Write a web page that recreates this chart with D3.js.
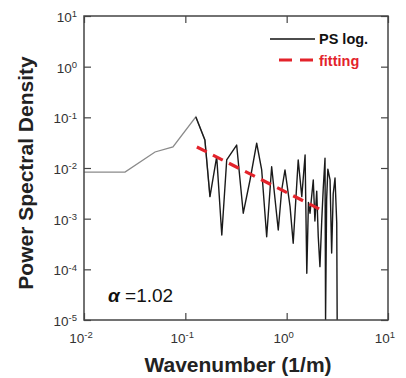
<!DOCTYPE html>
<html>
<head>
<meta charset="utf-8">
<script src="https://cdn.jsdelivr.net/npm/d3@7"></script>
<style>
  html, body { margin: 0; padding: 0; background: #fff; }
  svg text { font-family: "Liberation Sans", Arial, sans-serif; }
</style>
</head>
<body>
<div id="chart"></div>
<script>
// power spectrum (wavenumber in 1/m, PSD)
const waveNumber = [0.01, 0.0254, 0.0502, 0.0755, 0.127, 0.156, 0.175, 0.204, 0.229, 0.256,
	0.321, 0.373, 0.435, 0.506, 0.567, 0.635, 0.711, 0.826, 0.893, 0.963,
	1.08, 1.16, 1.30, 1.41, 1.52, 1.58, 1.64, 1.70, 1.83, 1.90, 1.98, 2.05, 2.13,
	2.22, 2.30, 2.39, 2.42, 2.48, 2.55, 2.68, 2.78, 2.88, 3.00, 3.12, 3.15];
const psd = [0.0083, 0.0083, 0.0207, 0.026, 0.102, 0.0357, 0.00272, 0.0167, 0.000477, 0.0144,
	0.0284, 0.00128, 0.0058, 0.0308, 0.00914, 0.00044, 0.0106, 0.000598, 0.00368, 0.00914,
	0.00173, 0.000327, 0.0144, 0.00272, 0.0181, 0.0000836, 0.0021, 0.00128, 0.0058, 0.0009, 0.0035, 0.00044, 0.000113,
	0.00094, 0.0042, 0.0156, 0.00001, 0.0024, 0.0095, 0.0058, 0.00021, 0.0031, 0.00635, 0.00082, 0.00001];

// fitted power law, alpha = 1.02
const fitX = [0.13, 2.2];
const fitY = [0.026, 0.00148];
const alphaLabel = "1.02";

const xTicks = [0.01, 0.1, 1, 10];
const yTicks = [1e-5, 1e-4, 1e-3, 1e-2, 1e-1, 1, 10];

const width = 406;
const height = 378;
const margins = { top: 16, right: 18, bottom: 58, left: 84 };
const plotW = width - margins.left - margins.right;
const plotH = height - margins.top - margins.bottom;

const svg = d3.select("#chart")
	.append("svg")
	.attr("width", width)
	.attr("height", height);

const x = d3.scaleLog().domain([0.01, 10]).range([0, plotW]);
const y = d3.scaleLog().domain([1e-5, 10]).range([plotH, 0]);

const g = svg.append("g")
	.attr("transform", `translate(${margins.left}, ${margins.top})`);

svg.append("defs").append("clipPath").attr("id", "clip")
	.append("rect").attr("width", plotW).attr("height", plotH);

// data line: low wavenumbers look grey, the rest black
const points = waveNumber.map((k, i) => [k, psd[i]]);
const line = d3.line()
	.x(d => x(d[0]))
	.y(d => y(Math.max(d[1], 1e-6)));

const plot = g.append("g").attr("clip-path", "url(#clip)");
plot.append("path")
	.datum(points.slice(0, 7))
	.attr("d", line)
	.attr("fill", "none")
	.attr("stroke", "#8a8a8a")
	.attr("stroke-width", 1.3);
plot.append("path")
	.datum(points.slice(4))
	.attr("d", line)
	.attr("fill", "none")
	.attr("stroke", "#1a1a1a")
	.attr("stroke-width", 1.4)
	.attr("stroke-linejoin", "round");

// fitting line
plot.append("path")
	.datum(fitX.map((k, i) => [k, fitY[i]]))
	.attr("d", line)
	.attr("fill", "none")
	.attr("stroke", "#e3232b")
	.attr("stroke-width", 3.2)
	.attr("stroke-dasharray", "11,7");

// axes: ticks inside, on all four sides
function tickLabel(sel, v) {
	const e = Math.round(Math.log10(v));
	sel.text("10");
	sel.append("tspan")
		.attr("dy", "-0.5em")
		.attr("font-size", "9.5px")
		.text(String(e));
}

const axisColor = "#444";
const tickLen = 7;

const axisBottom = g.append("g").attr("transform", `translate(0, ${plotH})`)
	.call(d3.axisBottom(x).tickValues(xTicks).tickSize(-tickLen).tickFormat(""));
const axisTop = g.append("g")
	.call(d3.axisTop(x).tickValues(xTicks).tickSize(-tickLen).tickFormat(""));
const axisLeft = g.append("g")
	.call(d3.axisLeft(y).tickValues(yTicks).tickSize(-tickLen).tickFormat(""));
const axisRight = g.append("g").attr("transform", `translate(${plotW}, 0)`)
	.call(d3.axisRight(y).tickValues(yTicks).tickSize(-tickLen).tickFormat(""));

[axisBottom, axisTop, axisLeft, axisRight].forEach(a => {
	a.selectAll(".domain").remove();
	a.selectAll(".tick line").attr("stroke", axisColor).attr("stroke-width", 1.2);
});

g.append("rect")
	.attr("width", plotW)
	.attr("height", plotH)
	.attr("fill", "none")
	.attr("stroke", axisColor)
	.attr("stroke-width", 1.5);

// tick labels
g.selectAll(".xlab")
	.data(xTicks)
	.join("text")
	.attr("class", "xlab")
	.attr("x", d => x(d) - 3)
	.attr("y", plotH + 23)
	.attr("text-anchor", "middle")
	.attr("font-size", "13.5px")
	.attr("fill", "#333")
	.each(function (d) { tickLabel(d3.select(this), d); });

g.selectAll(".ylab")
	.data(yTicks)
	.join("text")
	.attr("class", "ylab")
	.attr("x", -7)
	.attr("y", d => y(d) + 6)
	.attr("text-anchor", "end")
	.attr("font-size", "13.5px")
	.attr("fill", "#333")
	.each(function (d) { tickLabel(d3.select(this), d); });

// axis titles
svg.append("text")
	.attr("x", 238)
	.attr("y", 372)
	.attr("text-anchor", "middle")
	.attr("font-size", "21px")
	.attr("font-weight", "bold")
	.attr("fill", "#222")
	.text("Wavenumber (1/m)");

svg.append("text")
	.attr("transform", `translate(33, 173) rotate(-90)`)
	.attr("text-anchor", "middle")
	.attr("font-size", "21px")
	.attr("font-weight", "bold")
	.attr("fill", "#222")
	.text("Power Spectral Density");

// alpha annotation
const alpha = g.append("text")
	.attr("x", 24)
	.attr("y", 286)
	.attr("font-size", "19px")
	.attr("fill", "#111");
alpha.append("tspan").attr("font-style", "italic").attr("font-weight", "bold").text("α");
alpha.append("tspan").text(" =" + alphaLabel);

// legend
const legend = g.append("g").attr("transform", "translate(186, 23)");
legend.append("line")
	.attr("x1", 0).attr("x2", 45)
	.attr("stroke", "#111").attr("stroke-width", 1.3);
legend.append("text")
	.attr("x", 49).attr("y", 5)
	.attr("font-size", "14.5px").attr("font-weight", "bold").attr("fill", "#111")
	.text("PS log.");
legend.append("line")
	.attr("x1", 9).attr("x2", 44).attr("y1", 21).attr("y2", 21)
	.attr("stroke", "#e3232b").attr("stroke-width", 3)
	.attr("stroke-dasharray", "13,8");
legend.append("text")
	.attr("x", 49).attr("y", 27)
	.attr("font-size", "14.5px").attr("font-weight", "bold").attr("fill", "#e3232b")
	.text("fitting");
</script>
</body>
</html>
